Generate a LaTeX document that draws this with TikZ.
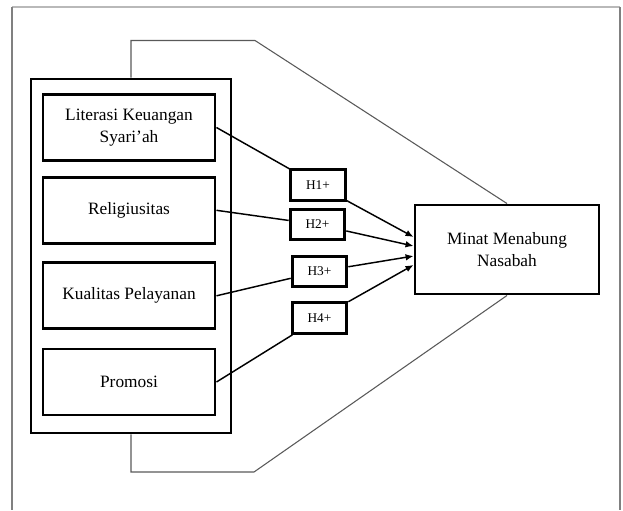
\documentclass[tikz,border=0pt]{standalone}
\usepackage{fontspec}
\setmainfont{Liberation Serif}
\usetikzlibrary{arrows.meta}
\tikzset{
  kotak/.style={draw,line width=2.2pt,minimum width=129pt,minimum height=49.5pt,align=center,font=\fontsize{13}{16.5}\selectfont,inner sep=2pt},
  hipo/.style={draw,line width=2.2pt,minimum width=41pt,minimum height=23pt,font=\fontsize{10}{12}\selectfont,inner sep=1pt},
  garis/.style={line width=1.1pt},
  panah/.style={line width=1.1pt,-{Latex[length=6pt,width=5pt]}},
  kurung/.style={line width=0.8pt,black!65},
}
\begin{document}
\begin{tikzpicture}[x=0.75pt,y=-0.75pt,line join=miter]
\useasboundingbox (0,0) rectangle (623,510);
% bingkai
\draw[gray!55,line width=1pt] (12,7) -- (620,7);
\draw[gray,line width=1.5pt] (12,7) -- (12,510) (620,7) -- (620,510);
% variabel X
\node[draw,line width=2.2pt,minimum width=150pt,minimum height=265.5pt] (luar) at (131,256) {};
\node[kotak] (lks) at (129,127.5) {Literasi Keuangan\\Syari'ah};
\node[kotak] (rel) at (129,210.3) {Religiusitas};
\node[kotak] (kp) at (129,295.8) {Kualitas Pelayanan};
\node[kotak] (pro) at (129,382) {Promosi};
% variabel Y
\node[kotak,minimum width=138pt,minimum height=66.75pt] (minat) at (507,249.5) {Minat Menabung\\Nasabah};
% hipotesis
\node[hipo] (h1) at (318,185) {H1+};
\node[hipo,minimum height=22pt] (h2) at (317.5,224.5) {H2+};
\node[hipo] (h3) at (319.5,271.5) {H3+};
\node[hipo] (h4) at (319.5,318) {H4+};
\draw[garis] (lks.east) -- (h1);
\draw[garis] (rel.east) -- (h2);
\draw[garis] (kp.east) -- (h3);
\draw[garis] (pro.east) -- (h4);
\draw[panah] (h1) -- ([yshift=9.4pt]minat.west);
\draw[panah] (h2) -- ([yshift=2.6pt]minat.west);
\draw[panah] (h3) -- ([yshift=-4.9pt]minat.west);
\draw[panah] (h4) -- ([yshift=-11.6pt]minat.west);
% simultan
\coordinate (ka) at (255,40.5);
\coordinate (kb) at (254,472);
\draw[kurung] (luar.north) |- (ka) -- (minat.north);
\draw[kurung] (luar.south) |- (kb) -- (minat.south);
\end{tikzpicture}
\end{document}
